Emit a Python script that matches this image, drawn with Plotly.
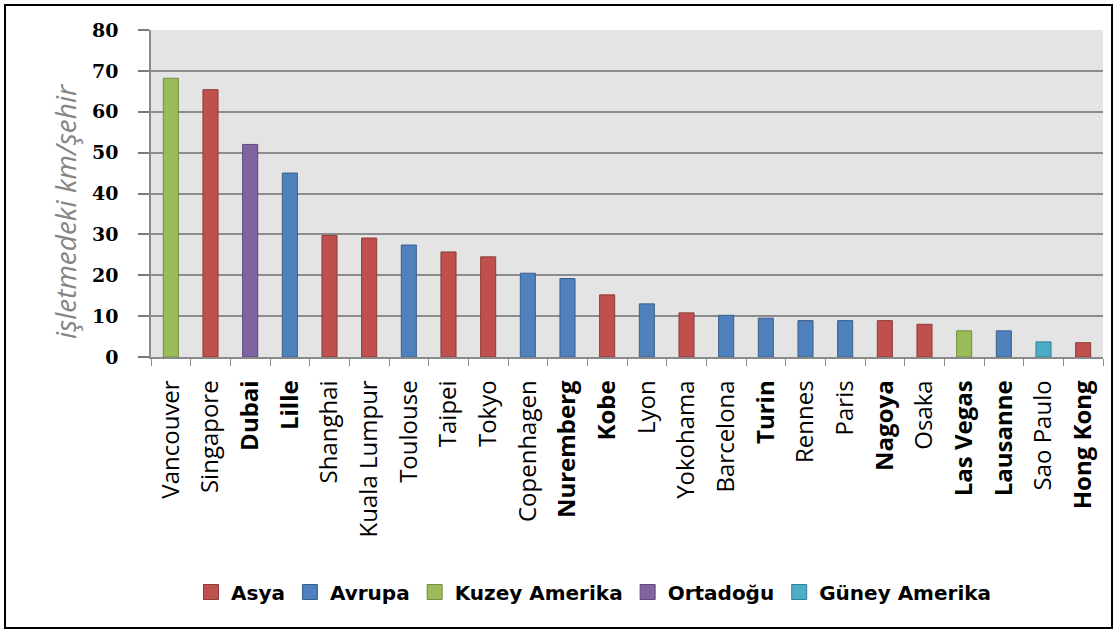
import plotly.graph_objects as go

# ---- data ----
cities = ["Vancouver", "Singapore", "Dubai", "Lille", "Shanghai", "Kuala Lumpur",
          "Toulouse", "Taipei", "Tokyo", "Copenhagen", "Nuremberg", "Kobe", "Lyon",
          "Yokohama", "Barcelona", "Turin", "Rennes", "Paris", "Nagoya", "Osaka",
          "Las Vegas", "Lausanne", "Sao Paulo", "Hong Kong"]
values = [68.2, 65.4, 52.0, 45.0, 29.7, 29.1, 27.4, 25.7, 24.5, 20.5, 19.2, 15.2,
          13.0, 10.8, 10.2, 9.5, 8.9, 8.9, 8.9, 8.0, 6.4, 6.4, 3.7, 3.5]
regions = ["Kuzey Amerika", "Asya", "Ortadoğu", "Avrupa", "Asya", "Asya",
           "Avrupa", "Asya", "Asya", "Avrupa", "Avrupa", "Asya", "Avrupa",
           "Asya", "Avrupa", "Avrupa", "Avrupa", "Avrupa", "Asya", "Asya",
           "Kuzey Amerika", "Avrupa", "Güney Amerika", "Asya"]
region_order = ["Asya", "Avrupa", "Kuzey Amerika", "Ortadoğu", "Güney Amerika"]
bold_labels = ["Dubai", "Lille", "Nuremberg", "Kobe", "Turin", "Nagoya",
               "Las Vegas", "Lausanne", "Hong Kong"]
y_ticks = [0, 10, 20, 30, 40, 50, 60, 70, 80]
y_title = "işletmedeki km/şehir"

# ---- styles ----
fill = {"Asya": "#C0504D", "Avrupa": "#4F81BD", "Kuzey Amerika": "#9BBB59",
        "Ortadoğu": "#8064A2", "Güney Amerika": "#4BACC6"}
edge = {"Asya": "#8E3A38", "Avrupa": "#3A5F8C", "Kuzey Amerika": "#738B42",
        "Ortadoğu": "#5E4A78", "Güney Amerika": "#377F93"}

W, H = 1117, 633
L, R, T, B = 151, 1103, 30, 357  # plot area in pixels
pw, ph = R - L, B - T


def px_x(p):
    return (p - L) / pw


def px_y(p):
    return (B - p) / ph


fig = go.Figure()
for reg in region_order:
    xs = [c for c, r in zip(cities, regions) if r == reg]
    ys = [v for v, r in zip(values, regions) if r == reg]
    fig.add_trace(go.Bar(
        x=xs, y=ys, name=reg, showlegend=False, legendgroup=reg,
        marker=dict(color=fill[reg], line=dict(color=edge[reg], width=1)),
    ))
    # legend swatch (larger square, like the original)
    fig.add_trace(go.Scatter(
        x=[None], y=[None], name=reg, mode="markers", legendgroup=reg,
        marker=dict(symbol="square", size=15, color=fill[reg],
                    line=dict(color=edge[reg], width=1)),
        hoverinfo="skip",
    ))

ticktext = [f"<b>{c}</b>" if c in bold_labels else c for c in cities]

fig.update_layout(
    width=W, height=H,
    margin=dict(l=L, r=W - R, t=T, b=H - B, pad=0),
    paper_bgcolor="white",
    plot_bgcolor="#E4E4E4",
    barmode="overlay",
    bargap=0.62,
    showlegend=True,
    legend=dict(
        orientation="h", x=px_x(594), xanchor="center", y=px_y(592), yanchor="middle",
        font=dict(family="DejaVu Sans", size=20, color="black", weight="bold"),
        traceorder="normal", itemwidth=30, itemsizing="trace",
    ),
    xaxis=dict(
        type="category", categoryorder="array", categoryarray=cities,
        tickmode="array", tickvals=cities, ticktext=ticktext,
        tickangle=-90,
        tickfont=dict(family="Open Sans", size=24, color="black"),
        ticklabelstandoff=12,
        showline=True, linecolor="#8A8A8A", linewidth=1.5,
        ticks="outside", ticklen=7, tickcolor="#8A8A8A", tickwidth=1, tickson="boundaries",
        showgrid=False, range=[-0.5, len(cities) - 0.5], fixedrange=True,
        automargin=False,
    ),
    yaxis=dict(
        range=[0, 80], tickmode="array", tickvals=y_ticks,
        tickfont=dict(family="DejaVu Serif", size=19, color="black", weight="bold"),
        showline=True, linecolor="#8A8A8A", linewidth=1.5,
        ticks="outside", ticklen=11, tickcolor="#7A7A7A", tickwidth=1.5,
        ticklabelstandoff=16,
        showgrid=True, gridcolor="#8C8C8C", gridwidth=1.5,
        zeroline=False, fixedrange=True, automargin=False,
    ),
    annotations=[dict(
        text=y_title, textangle=-90, xref="paper", yref="paper",
        x=px_x(65), y=px_y(212), xanchor="center", yanchor="middle", showarrow=False,
        font=dict(family="Open Sans", size=28, color="#858585", style="italic"),
    )],
    shapes=[dict(
        type="rect", xref="paper", yref="paper", layer="above",
        x0=px_x(5), x1=px_x(1112), y0=px_y(628), y1=px_y(5),
        line=dict(color="black", width=2), fillcolor="rgba(0,0,0,0)",
    )],
)

fig.write_html("out.html")
